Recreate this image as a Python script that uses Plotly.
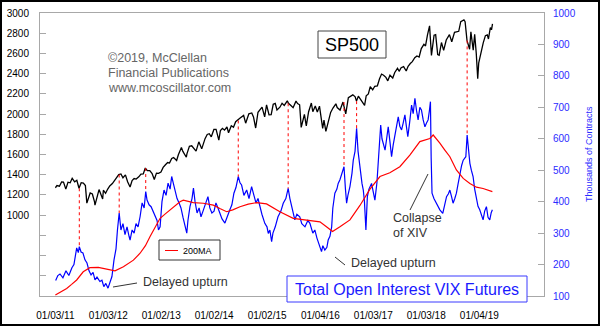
import plotly.graph_objects as go
from datetime import datetime

# ---------------- data ----------------
spx_dates = [
    "2011-01-03","2011-01-14","2011-01-31","2011-02-15","2011-02-28","2011-03-16","2011-03-31","2011-04-15","2011-04-29",
    "2011-05-16","2011-05-31","2011-06-15","2011-06-30","2011-07-15","2011-07-29","2011-08-08","2011-08-31","2011-09-15",
    "2011-09-30","2011-10-03","2011-10-31","2011-11-25","2011-11-30","2011-12-15","2011-12-30",
    "2012-01-13","2012-01-31","2012-02-15","2012-02-29","2012-03-15","2012-03-30","2012-04-13","2012-04-30","2012-05-15",
    "2012-06-01","2012-06-15","2012-06-29","2012-07-13","2012-07-31","2012-08-15","2012-08-31","2012-09-14","2012-09-28",
    "2012-10-15","2012-10-31","2012-11-15","2012-11-30","2012-12-14","2012-12-31",
    "2013-01-15","2013-01-31","2013-02-15","2013-02-28","2013-03-15","2013-03-28","2013-04-18","2013-04-30","2013-05-21",
    "2013-05-31","2013-06-24","2013-06-28","2013-07-15","2013-07-31","2013-08-15","2013-08-30","2013-09-18","2013-09-30",
    "2013-10-08","2013-10-31","2013-11-15","2013-11-29","2013-12-13","2013-12-31",
    "2014-01-15","2014-02-03","2014-02-14","2014-02-28","2014-03-14","2014-03-31","2014-04-11","2014-04-30","2014-05-15",
    "2014-05-30","2014-06-13","2014-06-30","2014-07-24","2014-07-31","2014-08-07","2014-08-29","2014-09-18","2014-09-30",
    "2014-10-15","2014-10-31","2014-11-14","2014-11-28","2014-12-16","2014-12-29",
    "2015-01-15","2015-01-30","2015-02-13","2015-02-27","2015-03-11","2015-03-31","2015-04-15","2015-04-30","2015-05-21",
    "2015-05-29","2015-06-15","2015-06-30","2015-07-20","2015-07-31","2015-08-14","2015-08-25","2015-09-16","2015-09-29",
    "2015-10-15","2015-10-30","2015-11-03","2015-11-13","2015-11-30","2015-12-14","2015-12-29",
    "2016-01-20","2016-01-29","2016-02-11","2016-02-29","2016-03-15","2016-03-31","2016-04-20","2016-04-29","2016-05-19",
    "2016-06-08","2016-06-27","2016-07-15","2016-07-29","2016-08-15","2016-08-31","2016-09-09","2016-09-22","2016-10-14",
    "2016-11-04","2016-11-15","2016-11-30","2016-12-13","2016-12-30",
    "2017-01-13","2017-01-31","2017-02-15","2017-03-01","2017-03-15","2017-03-31","2017-04-13","2017-04-28","2017-05-17",
    "2017-05-31","2017-06-19","2017-06-30","2017-07-14","2017-07-31","2017-08-18","2017-08-31","2017-09-15","2017-09-29",
    "2017-10-16","2017-10-31","2017-11-15","2017-11-30","2017-12-18","2017-12-29",
    "2018-01-12","2018-01-26","2018-02-08","2018-02-26","2018-03-09","2018-03-23","2018-04-02","2018-04-18","2018-05-03",
    "2018-05-21","2018-06-12","2018-06-28","2018-07-17","2018-07-31","2018-08-15","2018-08-29","2018-09-20","2018-09-28",
    "2018-10-11","2018-10-29","2018-11-07","2018-11-23","2018-12-03","2018-12-14","2018-12-24","2018-12-31",
    "2019-01-15","2019-01-31","2019-02-15","2019-02-28","2019-03-08","2019-03-21","2019-03-29","2019-04-05",
]
spx_vals = [
    1271,1293,1286,1328,1327,1257,1326,1320,1364,
    1330,1345,1266,1321,1316,1292,1119,1219,1209,
    1131,1099,1253,1159,1247,1216,1258,
    1289,1312,1344,1366,1402,1408,1370,1398,1330,
    1278,1343,1362,1357,1379,1405,1407,1466,1441,
    1440,1412,1353,1416,1414,1426,
    1472,1498,1520,1515,1561,1569,1541,1598,1669,
    1631,1573,1606,1682,1686,1661,1633,1725,1682,
    1656,1757,1798,1806,1775,1848,
    1848,1742,1838,1859,1841,1872,1815,1884,1870,
    1924,1937,1960,1987,1931,1910,2003,2011,1972,
    1862,2018,2039,2068,1973,2091,
    1993,1995,2097,2105,2040,2068,2107,2086,2131,
    2107,2084,2063,2128,2104,2092,1868,1996,1884,
    2023,2079,2109,2023,2080,2021,2078,
    1859,1940,1829,1932,2016,2060,2102,2065,2040,
    2119,2001,2162,2174,2190,2171,2128,2177,2133,
    2085,2180,2199,2272,2239,
    2275,2279,2350,2396,2385,2363,2329,2384,2357,
    2412,2453,2423,2459,2470,2426,2472,2500,2519,
    2557,2575,2565,2648,2690,2674,
    2786,2873,2581,2780,2786,2588,2582,2708,2630,
    2733,2786,2716,2809,2816,2819,2914,2931,2914,
    2729,2641,2814,2633,2790,2600,2351,2507,
    2610,2704,2776,2784,2743,2855,2834,2893,
]

oi_dates = [
    "2011-01-05","2011-01-20","2011-02-04","2011-02-24","2011-03-17","2011-04-06","2011-04-27","2011-05-11","2011-05-30",
    "2011-06-10","2011-06-17","2011-06-29","2011-07-12","2011-07-26","2011-08-09","2011-08-23","2011-09-06","2011-09-20",
    "2011-10-03","2011-10-17","2011-11-06","2011-11-20","2011-12-03","2011-12-17",
    "2012-01-01","2012-01-14","2012-01-28","2012-02-11","2012-02-25","2012-03-06","2012-03-18","2012-03-30","2012-04-13",
    "2012-04-27","2012-05-11","2012-05-25","2012-06-01","2012-06-15","2012-06-29","2012-07-12","2012-07-26","2012-08-09",
    "2012-08-23","2012-09-06","2012-09-17","2012-09-26","2012-10-10","2012-10-24","2012-11-06","2012-11-20","2012-12-04",
    "2012-12-14","2012-12-25",
    "2013-01-07","2013-01-21","2013-02-04","2013-02-18","2013-03-04","2013-03-15","2013-03-28","2013-04-07","2013-04-21",
    "2013-05-05","2013-05-18","2013-06-01","2013-06-15","2013-06-27","2013-07-05","2013-07-19","2013-08-02","2013-08-12",
    "2013-08-23","2013-09-06","2013-09-20","2013-10-03","2013-10-17","2013-10-31","2013-11-20","2013-12-03","2013-12-17",
    "2014-01-01","2014-01-14","2014-01-28","2014-02-11","2014-02-25","2014-03-17","2014-03-30","2014-04-20","2014-05-04",
    "2014-05-18","2014-06-01","2014-06-17","2014-06-29","2014-07-10","2014-07-26","2014-08-14","2014-08-30","2014-09-17",
    "2014-10-03","2014-10-17","2014-10-31","2014-11-13","2014-11-27","2014-12-17",
    "2015-01-01","2015-01-10","2015-01-21","2015-02-02","2015-02-11","2015-02-27","2015-03-10","2015-03-18","2015-04-07",
    "2015-04-23","2015-05-11","2015-05-27","2015-06-08","2015-06-20","2015-06-29","2015-07-12","2015-07-26","2015-08-15",
    "2015-08-29","2015-09-20","2015-10-10","2015-10-24","2015-11-13","2015-11-27","2015-12-11","2015-12-20",
    "2016-01-01","2016-01-12","2016-01-21","2016-02-04","2016-02-18","2016-02-27","2016-03-10","2016-03-22","2016-03-30",
    "2016-04-13","2016-04-27","2016-05-06","2016-05-18","2016-05-30","2016-06-15","2016-06-25","2016-07-03","2016-07-12",
    "2016-07-26","2016-08-09","2016-08-18","2016-08-30","2016-09-10","2016-09-20","2016-10-03","2016-10-17","2016-10-26",
    "2016-11-03","2016-11-13","2016-11-23","2016-12-04","2016-12-22",
    "2017-01-03","2017-01-14","2017-01-28","2017-02-06","2017-02-23","2017-03-04","2017-03-25","2017-04-05","2017-04-16",
    "2017-04-28","2017-05-09","2017-05-20","2017-06-01","2017-06-12","2017-06-24","2017-07-05","2017-07-17","2017-07-28",
    "2017-08-09","2017-08-19","2017-08-29","2017-09-10","2017-09-24","2017-10-05","2017-10-17","2017-10-28","2017-11-08",
    "2017-11-20","2017-12-01","2017-12-13","2017-12-25",
    "2018-01-05","2018-01-16","2018-01-25","2018-02-01","2018-02-06","2018-02-12","2018-02-25","2018-03-15","2018-03-28",
    "2018-04-07","2018-04-27","2018-05-10","2018-05-23","2018-06-05","2018-06-15","2018-06-27","2018-07-07","2018-07-19",
    "2018-07-30","2018-08-10","2018-08-23","2018-09-04","2018-09-15","2018-10-03","2018-10-12","2018-10-22","2018-10-31",
    "2018-11-10","2018-11-22","2018-12-03","2018-12-15","2018-12-26",
    "2019-01-07","2019-01-18","2019-01-30","2019-02-10","2019-02-22","2019-03-05","2019-03-17","2019-03-27","2019-04-04",
]
oi_vals = [
    149,165,170,158,180,165,190,200,253,
    238,257,240,237,215,205,180,167,175,
    151,160,146,150,130,140,
    125,140,162,214,250,310,364,310,330,
    295,320,290,278,310,300,330,320,352,
    396,380,432,405,390,384,370,350,340,
    310,320,
    400,437,420,459,440,480,455,437,410,
    396,380,350,320,300,340,384,410,443,
    400,364,380,352,370,390,416,380,364,
    370,396,380,360,345,332,350,374,390,
    427,445,480,460,453,420,437,410,448,
    420,396,410,384,360,331,
    320,299,310,273,300,320,335,352,370,
    395,410,442,410,384,360,342,360,352,
    330,320,340,331,300,310,285,273,
    255,241,260,246,255,278,290,320,380,
    427,440,458,470,490,511,440,395,420,
    448,490,532,560,633,560,501,458,437,
    400,310,416,440,458,
    430,405,460,532,644,600,564,600,638,
    590,543,580,607,640,670,640,628,650,
    676,640,607,650,707,680,729,690,660,
    700,692,660,638,
    650,660,690,718,540,427,410,395,380,
    374,363,395,416,425,437,415,395,410,
    427,455,490,515,532,543,612,560,522,
    500,480,440,405,385,
    374,355,342,370,384,350,342,365,374,
]

ma_dates = [
    "2011-01-03","2011-02-10","2011-03-22","2011-04-25","2011-05-30","2011-07-14","2011-08-29","2011-10-26","2011-12-22",
    "2012-02-18","2012-04-16","2012-06-24","2012-08-09","2012-09-15","2012-10-17","2012-11-20","2012-12-25","2013-02-01",
    "2013-03-04","2013-04-10","2013-05-11","2013-06-03","2013-08-11","2013-10-19","2013-12-27","2014-02-10","2014-03-29",
    "2014-05-10","2014-06-29","2014-08-25","2014-10-22","2014-12-29","2015-03-31","2015-07-01","2015-09-30","2016-01-01",
    "2016-02-15","2016-03-28","2016-05-18","2016-07-26","2016-10-03","2016-12-11","2017-02-18","2017-04-27","2017-07-05",
    "2017-09-12","2017-11-20","2018-01-10","2018-01-28","2018-02-20","2018-03-15","2018-04-07","2018-05-10","2018-06-15",
    "2018-07-30","2018-09-15","2018-10-31","2018-12-15","2019-01-30","2019-04-04",
]
ma_vals = [
    103,112,124,137,151,177,190,191,186,
    180,193,214,236,260,289,320,347,362,
    374,388,400,405,397,395,389,378,368,
    374,384,392,397,393,368,347,342,336,
    320,305,320,342,388,440,480,492,511,
    548,591,598,601,612,600,586,565,543,
    501,474,458,446,442,432,
]

# dates where dotted red lines link SP500 tops with open-interest peaks
link_dates = ["2011-06-17","2012-03-18","2012-09-17","2014-06-17","2015-05-27","2016-06-15","2016-09-10","2018-10-12"]

x_tick_dates = ["2011-01-03","2012-01-03","2013-01-02","2014-01-02","2015-01-02","2016-01-04","2017-01-03","2018-01-03","2019-01-04"]
x_tick_text = ["01/03/11","01/03/12","01/02/13","01/02/14","01/02/15","01/04/16","01/03/17","01/03/18","01/04/19"]
left_ticks = list(range(200, 3001, 200))
left_labels = [str(v) if v >= 1000 else "" for v in left_ticks]
right_ticks = list(range(100, 1001, 100))

# ---------------- layout constants ----------------
W, H = 600, 326
ML, MR, MT, MB = 40, 56, 13, 30
PW, PH = W - ML - MR, H - MT - MB
Y1 = [200, 3000]
Y2 = [100, 1000]
XR = ["2010-09-19", "2020-03-25"]
FONT = "Liberation Sans, Arial, sans-serif"
BLUE_TXT = "#2b2bff"


def px(x):
    return (x - ML) / PW


def py(y):
    return (H - MB - y) / PH


def to_y2(v):
    return Y2[0] + (v - Y1[0]) * (Y2[1] - Y2[0]) / (Y1[1] - Y1[0])


def nearest(dates, vals, d):
    t = datetime.fromisoformat(d)
    i = min(range(len(dates)), key=lambda k: abs((datetime.fromisoformat(dates[k]) - t).days))
    return vals[i]


fig = go.Figure()
fig.add_trace(go.Scatter(x=spx_dates, y=spx_vals, mode="lines", line=dict(color="black", width=1.3),
                         yaxis="y", hoverinfo="skip", showlegend=False))
fig.add_trace(go.Scatter(x=oi_dates, y=oi_vals, mode="lines", line=dict(color="#0000ff", width=1.2),
                         yaxis="y2", hoverinfo="skip", showlegend=False))
fig.add_trace(go.Scatter(x=ma_dates, y=ma_vals, mode="lines", line=dict(color="#ff0000", width=1.2),
                         yaxis="y2", hoverinfo="skip", showlegend=False))
for d in link_dates:
    top = to_y2(nearest(spx_dates, spx_vals, d))
    bot = nearest(oi_dates, oi_vals, d)
    fig.add_trace(go.Scatter(x=[d, d], y=[top, bot], mode="lines",
                             line=dict(color="#ff0000", width=1, dash="dot"),
                             yaxis="y2", hoverinfo="skip", showlegend=False))

shapes = []
# outer frame
shapes.append(dict(type="rect", xref="paper", yref="paper", x0=px(1), x1=px(W - 1), y0=py(H - 1), y1=py(1),
                   line=dict(color="black", width=2), fillcolor="rgba(0,0,0,0)", layer="above"))
# SP500 box
shapes.append(dict(type="rect", xref="paper", yref="paper", x0=px(318), x1=px(386), y0=py(58), y1=py(31),
                   line=dict(color="#444", width=1), fillcolor="white", layer="above"))
# 200MA legend box
shapes.append(dict(type="rect", xref="paper", yref="paper", x0=px(159), x1=px(220), y0=py(260), y1=py(240),
                   line=dict(color="#333", width=1), fillcolor="white", layer="above"))
shapes.append(dict(type="line", xref="paper", yref="paper", x0=px(165), x1=px(178), y0=py(250.5), y1=py(250.5),
                   line=dict(color="#ff0000", width=1), layer="above"))
# Total open interest box
shapes.append(dict(type="rect", xref="paper", yref="paper", x0=px(287), x1=px(527), y0=py(302), y1=py(276),
                   line=dict(color="#3a3aff", width=1), fillcolor="white", layer="above"))
# connector lines
for (x0, y0, x1, y1) in [(113, 287, 137, 283), (335, 257, 345, 265), (410, 210, 428, 174)]:
    shapes.append(dict(type="line", xref="paper", yref="paper", x0=px(x0), y0=py(y0), x1=px(x1), y1=py(y1),
                       line=dict(color="#333", width=1), layer="above"))

annotations = []


def txt(text, x, y, size, color="#333", xanchor="left", angle=0):
    annotations.append(dict(text=text, x=px(x), y=py(y), xref="paper", yref="paper", showarrow=False,
                            xanchor=xanchor, yanchor="middle", textangle=angle,
                            font=dict(family=FONT, size=size, color=color)))


txt("©2019, McClellan", 106, 58, 12.5, "#666")
txt("Financial Publications", 106, 73, 12.5, "#666")
txt("www.mcoscillator.com", 106, 88, 12.5, "#666")
txt("SP500", 352, 44.5, 18, "black", "center")
txt("200MA", 181, 250.5, 9, "black")
txt("Delayed upturn", 141, 282, 12.5, "#333")
txt("Delayed upturn", 349, 263, 12.5, "#333")
txt("Collapse", 391, 218, 12.5, "#333")
txt("of XIV", 391, 233, 12.5, "#333")
txt("Total Open Interest VIX Futures", 407, 289, 16, "#1a1aff", "center")
txt("Thousands of Contracts", 589, 154, 9, BLUE_TXT, "center", -90)

fig.update_layout(
    width=W, height=H,
    margin=dict(l=ML, r=MR, t=MT, b=MB, pad=0, autoexpand=False),
    paper_bgcolor="white", plot_bgcolor="white",
    font=dict(family=FONT, size=10, color="black"),
    showlegend=False,
    xaxis=dict(type="date", range=XR, tickvals=x_tick_dates, ticktext=x_tick_text, ticks="",
               showgrid=False, zeroline=False, showline=True, linecolor="#a8a8a8", linewidth=1, mirror=True,
               tickfont=dict(size=10, color="black"), ticklabelstandoff=10, automargin=False),
    yaxis=dict(range=Y1, tickvals=left_ticks, ticktext=left_labels, ticks="inside", ticklen=6,
               tickcolor="#a8a8a8", showgrid=False, zeroline=False, showline=True, linecolor="#a8a8a8",
               linewidth=1, mirror=True, tickfont=dict(size=10, color="black"), ticklabelstandoff=8,
               automargin=False),
    yaxis2=dict(range=Y2, tickvals=right_ticks, overlaying="y", side="right", ticks="inside", ticklen=6,
                tickcolor="#a8a8a8", showgrid=False, zeroline=False, showline=False,
                tickfont=dict(size=10, color=BLUE_TXT), ticklabelstandoff=8, automargin=False),
    shapes=shapes,
    annotations=annotations,
)

fig.write_html("out.html")
